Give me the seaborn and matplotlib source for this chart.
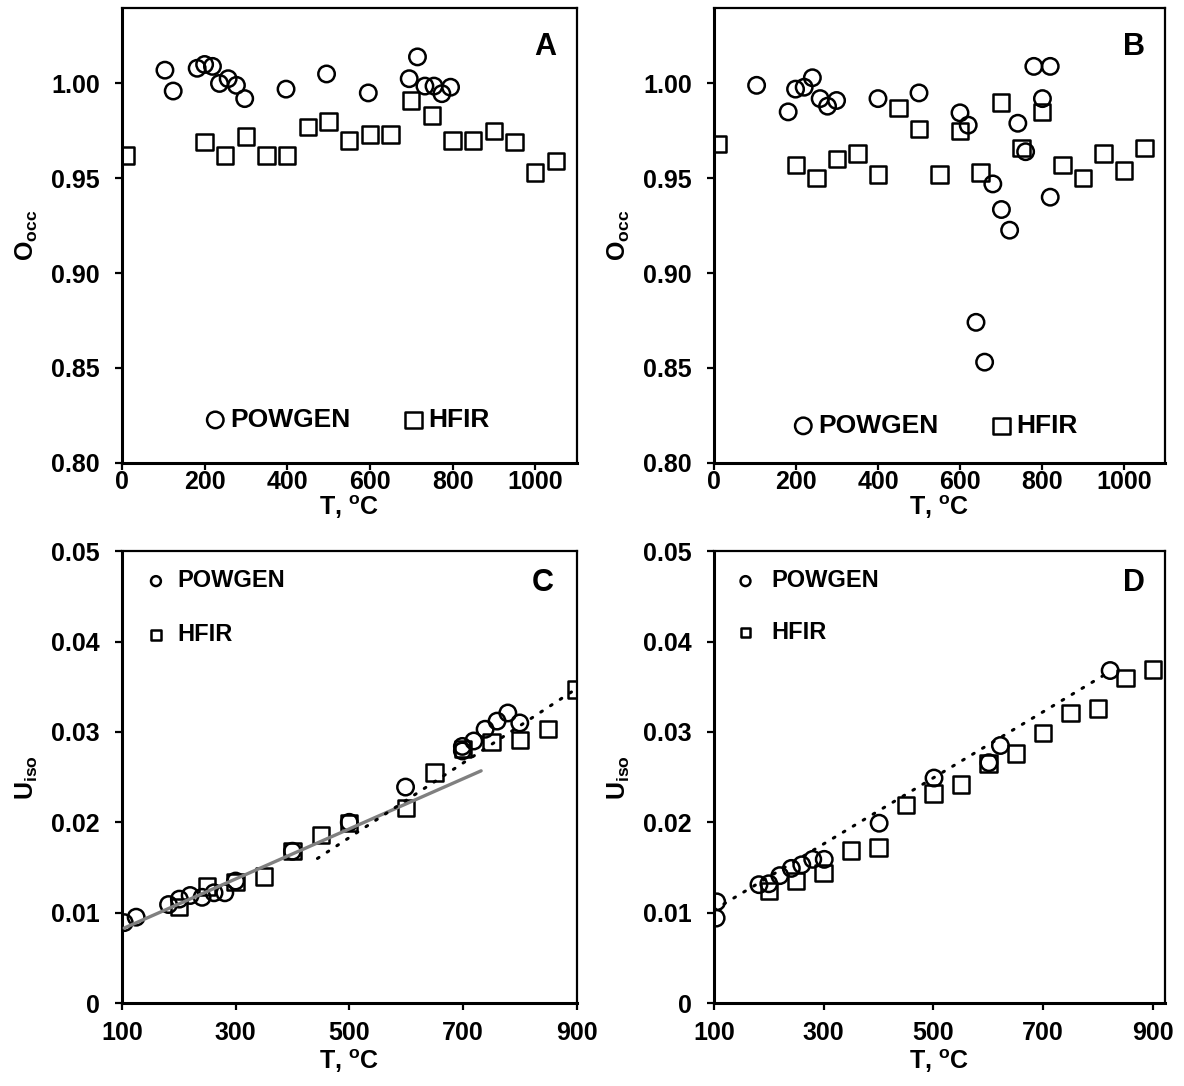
import matplotlib
matplotlib.use('Agg')
import matplotlib.pyplot as plt
import seaborn as sns
import pandas as pd

# panel A : O occupancy, sample 1
powgenA_T = [104, 124, 182, 200, 219, 236, 257, 277, 297, 397, 495, 596, 695, 715, 733, 755, 774, 795]
powgenA_occ = [1.007, 0.996, 1.008, 1.010, 1.009, 1.000, 1.0025, 0.999, 0.992, 0.997, 1.005,
               0.995, 1.0025, 1.014, 0.9986, 0.9986, 0.9946, 0.998]
hfirA_T = [10, 200, 250, 300, 350, 400, 450, 500, 550, 600, 650, 700, 750, 800, 850, 900, 950, 1000, 1050]
hfirA_occ = [0.962, 0.969, 0.962, 0.972, 0.962, 0.962, 0.977, 0.980, 0.970, 0.973, 0.973,
             0.991, 0.983, 0.970, 0.970, 0.975, 0.969, 0.953, 0.959]

# panel B : O occupancy, sample 2
powgenB_T = [104, 181, 199, 220, 240, 259, 277, 299, 400, 500, 600, 620, 639, 660, 680,
             701, 721, 741, 760, 780, 801, 820, 820]
powgenB_occ = [0.999, 0.985, 0.997, 0.998, 1.003, 0.992, 0.988, 0.991, 0.992, 0.995, 0.9845,
               0.978, 0.874, 0.853, 0.947, 0.9335, 0.9226, 0.979, 0.964, 1.009, 0.992, 1.009, 0.940]
hfirB_T = [10, 200, 250, 300, 350, 400, 450, 500, 550, 600, 650, 700, 750, 800, 850, 900, 950, 1000, 1050]
hfirB_occ = [0.968, 0.957, 0.950, 0.960, 0.963, 0.952, 0.987, 0.976, 0.952, 0.975, 0.953,
             0.990, 0.966, 0.985, 0.957, 0.950, 0.963, 0.954, 0.966]

# panel C : Uiso, sample 1
powgenC_T = [104, 125, 182, 201, 220, 241, 262, 281, 300, 400, 500, 599, 699, 699, 719, 739, 760, 779, 800]
powgenC_U = [0.0089, 0.0095, 0.0109, 0.0115, 0.0119, 0.0117, 0.0122, 0.0122, 0.0135, 0.0168,
             0.0200, 0.0239, 0.0284, 0.0279, 0.0290, 0.0303, 0.0312, 0.0321, 0.0310]
hfirC_T = [200, 250, 300, 350, 400, 450, 500, 600, 650, 700, 750, 800, 850, 900]
hfirC_U = [0.0106, 0.0129, 0.0134, 0.0140, 0.0168, 0.0186, 0.0199, 0.0216, 0.0255, 0.0281,
           0.0289, 0.0291, 0.0303, 0.0347]
fitC_low_T = [104, 732]
fitC_low_U = [0.0083, 0.0257]
fitC_high_T = [444, 900]
fitC_high_U = [0.0160, 0.0348]

# panel D : Uiso, sample 2
powgenD_T = [105, 104, 182, 200, 220, 241, 260, 280, 301, 401, 501, 601, 622, 822]
powgenD_U = [0.0112, 0.0094, 0.0131, 0.0132, 0.0141, 0.0149, 0.0153, 0.0159, 0.0159, 0.0199,
             0.0249, 0.0266, 0.0285, 0.0368]
hfirD_T = [200, 250, 300, 350, 400, 450, 500, 550, 600, 650, 700, 750, 800, 850, 900]
hfirD_U = [0.0124, 0.0135, 0.0144, 0.0169, 0.0172, 0.0219, 0.0232, 0.0242, 0.0265, 0.0276,
           0.0299, 0.0321, 0.0326, 0.0360, 0.0369]
fitD_T = [100, 822]
fitD_U = [0.0103, 0.0367]

occ_ticks = [0.80, 0.85, 0.90, 0.95, 1.00]
occ_ticklabels = ['0.80', '0.85', '0.90', '0.95', '1.00']
u_ticks = [0, 0.01, 0.02, 0.03, 0.04, 0.05]
u_ticklabels = ['0', '0.01', '0.02', '0.03', '0.04', '0.05']
occ_xticks = [0, 200, 400, 600, 800, 1000]
u_xticks = [100, 300, 500, 700, 900]

sns.set_theme(style='ticks')
plt.rcParams['font.family'] = ['Liberation Sans', 'DejaVu Sans']
plt.rcParams['font.weight'] = 'bold'
plt.rcParams['text.color'] = 'black'
plt.rcParams['axes.labelcolor'] = 'black'
plt.rcParams['xtick.color'] = 'black'
plt.rcParams['ytick.color'] = 'black'
plt.rcParams['mathtext.fontset'] = 'custom'
plt.rcParams['mathtext.rm'] = 'Liberation Sans:bold'
plt.rcParams['mathtext.it'] = 'Liberation Sans:bold'
plt.rcParams['mathtext.bf'] = 'Liberation Sans:bold'

MSIZE = 140
MLW = 1.8


def scatterPair(ax, tPow, yPow, tHfir, yHfir):
    dfPow = pd.DataFrame({'T': tPow, 'y': yPow})
    dfHfir = pd.DataFrame({'T': tHfir, 'y': yHfir})
    sns.scatterplot(data=dfHfir, x='T', y='y', marker='s', s=MSIZE, facecolor='none',
                    edgecolor='black', linewidth=MLW, ax=ax, zorder=3)
    hHfir = ax.collections[-1]
    sns.scatterplot(data=dfPow, x='T', y='y', marker='o', s=MSIZE, facecolor='none',
                    edgecolor='black', linewidth=MLW, ax=ax, zorder=3)
    hPow = ax.collections[-1]
    return hPow, hHfir


def styleAxes(ax, letter, xlim, xticks, ylim, yticks, yticklabels, ylabel, letterPos, xpad, xlabpad):
    ax.set_xlim(xlim)
    ax.set_ylim(ylim)
    ax.set_xticks(xticks)
    ax.set_xticklabels([str(t) for t in xticks], fontsize=18, fontweight='bold', color='black')
    ax.set_yticks(yticks)
    ax.set_yticklabels(yticklabels, fontsize=18, fontweight='bold', color='black')
    ax.tick_params(axis='both', direction='out', length=5, width=1.6,
                   top=False, right=False, color='black')
    ax.tick_params(axis='y', pad=11)
    ax.tick_params(axis='x', pad=xpad)
    for side in ['left', 'bottom']:
        ax.spines[side].set_linewidth(2.2)
        ax.spines[side].set_color('black')
    for side in ['top', 'right']:
        ax.spines[side].set_linewidth(1.6)
        ax.spines[side].set_color('black')
        ax.spines[side].set_visible(True)
    ax.set_xlabel(r'T, $^{\mathrm{o}}$C', fontsize=18, fontweight='bold', labelpad=xlabpad,
                  color='black')
    ax.set_ylabel(ylabel, fontsize=18, fontweight='bold', labelpad=8, color='black')
    ax.text(letterPos[0], letterPos[1], letter, transform=ax.transAxes, ha='right', va='top',
            fontsize=22, fontweight='bold', color='black')


fig = plt.figure(figsize=(11.84, 10.86), dpi=100)
axA = fig.add_axes([0.103, 0.574, 0.384, 0.419])
axB = fig.add_axes([0.603, 0.574, 0.381, 0.419])
axC = fig.add_axes([0.103, 0.0764, 0.384, 0.416])
axD = fig.add_axes([0.603, 0.0764, 0.381, 0.416])

occLabel = r'O$_{\mathrm{occ}}$'
uLabel = r'U$_{\mathrm{iso}}$'
legProp = {'size': 19, 'weight': 'bold'}
legPropSmall = {'size': 17, 'weight': 'bold'}

# A
hP, hH = scatterPair(axA, powgenA_T, powgenA_occ, hfirA_T, hfirA_occ)
styleAxes(axA, 'A', (0, 1100), occ_xticks, (0.80, 1.04), occ_ticks, occ_ticklabels, occLabel,
          (0.956, 0.947), 0, 0)
axA.legend([hP, hH], ['POWGEN', 'HFIR'], loc='center', bbox_to_anchor=(0.495, 0.094), ncol=2,
           frameon=False, handlelength=0.8, handletextpad=0.15, columnspacing=2.0, prop=legProp)

# B
hP, hH = scatterPair(axB, powgenB_T, powgenB_occ, hfirB_T, hfirB_occ)
styleAxes(axB, 'B', (0, 1100), occ_xticks, (0.80, 1.04), occ_ticks, occ_ticklabels, occLabel,
          (0.956, 0.947), 0, 0)
axB.legend([hP, hH], ['POWGEN', 'HFIR'], loc='center', bbox_to_anchor=(0.49, 0.081), ncol=2,
           frameon=False, handlelength=0.8, handletextpad=0.15, columnspacing=2.0, prop=legProp)

# C
hP, hH = scatterPair(axC, powgenC_T, powgenC_U, hfirC_T, hfirC_U)
sns.lineplot(x=fitC_low_T, y=fitC_low_U, color='#808080', linewidth=2.4, ax=axC, zorder=4)
sns.lineplot(x=fitC_high_T, y=fitC_high_U, color='black', linewidth=2.2, ax=axC, zorder=4,
             linestyle=(0, (0.6, 3.2)), dash_capstyle='round')
styleAxes(axC, 'C', (100, 900), u_xticks, (0, 0.05), u_ticks, u_ticklabels, uLabel,
          (0.949, 0.962), 8, 2)
axC.legend([hP, hH], ['POWGEN', 'HFIR'], loc='upper left', bbox_to_anchor=(0.054, 0.96),
           frameon=False, handlelength=0.8, handletextpad=0.5, labelspacing=1.3, markerscale=0.6,
           borderpad=0, borderaxespad=0, prop=legPropSmall)

# D
hP, hH = scatterPair(axD, powgenD_T, powgenD_U, hfirD_T, hfirD_U)
sns.lineplot(x=fitD_T, y=fitD_U, color='black', linewidth=2.2, ax=axD, zorder=4,
             linestyle=(0, (0.6, 3.2)), dash_capstyle='round')
styleAxes(axD, 'D', (100, 922), u_xticks, (0, 0.05), u_ticks, u_ticklabels, uLabel,
          (0.956, 0.962), 8, 2)
axD.legend([hP, hH], ['POWGEN', 'HFIR'], loc='upper left', bbox_to_anchor=(0.049, 0.96),
           frameon=False, handlelength=0.8, handletextpad=0.7, labelspacing=1.2, markerscale=0.6,
           borderpad=0, borderaxespad=0, prop=legPropSmall)

fig.savefig('out.png', dpi=100)
